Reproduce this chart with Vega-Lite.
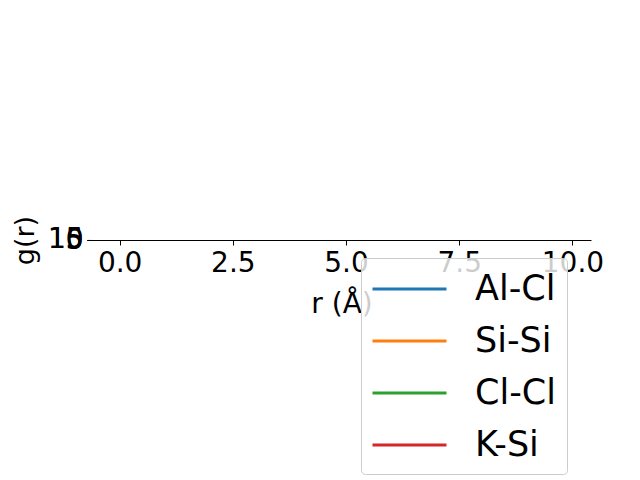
{
  "$schema": "https://vega.github.io/schema/vega-lite/v6.json",
  "autosize": "none",
  "padding": {"left": 92, "top": 240, "right": 49, "bottom": 240},
  "width": 499,
  "height": 0.01,
  "background": "white",
  "config": {
    "font": "DejaVu Sans",
    "view": {"stroke": null},
    "axis": {"grid": false, "domainColor": "black", "tickColor": "black", "labelColor": "black", "titleColor": "black", "titleFontWeight": "normal", "zindex": 1}
  },
  "data": {
    "values": [
      {"r": 0.0, "g": 0, "pair": "Al-Cl"},
      {"r": 1.5, "g": 0, "pair": "Al-Cl"},
      {"r": 1.9, "g": 4.5, "pair": "Al-Cl"},
      {"r": 2.1, "g": 14.2, "pair": "Al-Cl"},
      {"r": 2.3, "g": 5.1, "pair": "Al-Cl"},
      {"r": 2.7, "g": 0.3, "pair": "Al-Cl"},
      {"r": 3.5, "g": 0.6, "pair": "Al-Cl"},
      {"r": 4.3, "g": 1.4, "pair": "Al-Cl"},
      {"r": 5.0, "g": 1.1, "pair": "Al-Cl"},
      {"r": 6.0, "g": 0.9, "pair": "Al-Cl"},
      {"r": 7.0, "g": 1.05, "pair": "Al-Cl"},
      {"r": 8.0, "g": 1.0, "pair": "Al-Cl"},
      {"r": 9.0, "g": 0.98, "pair": "Al-Cl"},
      {"r": 9.9, "g": 1.0, "pair": "Al-Cl"},
      {"r": 0.0, "g": 0, "pair": "Si-Si"},
      {"r": 2.6, "g": 0, "pair": "Si-Si"},
      {"r": 2.9, "g": 2.2, "pair": "Si-Si"},
      {"r": 3.1, "g": 5.0, "pair": "Si-Si"},
      {"r": 3.4, "g": 2.1, "pair": "Si-Si"},
      {"r": 4.0, "g": 0.5, "pair": "Si-Si"},
      {"r": 5.0, "g": 1.6, "pair": "Si-Si"},
      {"r": 6.0, "g": 0.8, "pair": "Si-Si"},
      {"r": 7.0, "g": 1.2, "pair": "Si-Si"},
      {"r": 8.0, "g": 0.95, "pair": "Si-Si"},
      {"r": 9.0, "g": 1.02, "pair": "Si-Si"},
      {"r": 9.9, "g": 1.0, "pair": "Si-Si"},
      {"r": 0.0, "g": 0, "pair": "Cl-Cl"},
      {"r": 2.9, "g": 0, "pair": "Cl-Cl"},
      {"r": 3.3, "g": 1.8, "pair": "Cl-Cl"},
      {"r": 3.6, "g": 3.1, "pair": "Cl-Cl"},
      {"r": 4.0, "g": 1.5, "pair": "Cl-Cl"},
      {"r": 5.0, "g": 0.8, "pair": "Cl-Cl"},
      {"r": 6.0, "g": 1.3, "pair": "Cl-Cl"},
      {"r": 7.0, "g": 0.9, "pair": "Cl-Cl"},
      {"r": 8.0, "g": 1.05, "pair": "Cl-Cl"},
      {"r": 9.0, "g": 0.98, "pair": "Cl-Cl"},
      {"r": 9.9, "g": 1.0, "pair": "Cl-Cl"},
      {"r": 0.0, "g": 0, "pair": "K-Si"},
      {"r": 3.0, "g": 0, "pair": "K-Si"},
      {"r": 3.5, "g": 1.2, "pair": "K-Si"},
      {"r": 3.8, "g": 2.0, "pair": "K-Si"},
      {"r": 4.3, "g": 1.3, "pair": "K-Si"},
      {"r": 5.0, "g": 0.9, "pair": "K-Si"},
      {"r": 6.0, "g": 1.15, "pair": "K-Si"},
      {"r": 7.0, "g": 0.95, "pair": "K-Si"},
      {"r": 8.0, "g": 1.03, "pair": "K-Si"},
      {"r": 9.0, "g": 0.99, "pair": "K-Si"},
      {"r": 9.9, "g": 1.0, "pair": "K-Si"}
    ]
  },
  "mark": {"type": "line", "clip": true, "strokeWidth": 2},
  "encoding": {
    "x": {
      "field": "r", "type": "quantitative",
      "scale": {"domain": [-0.61, 10.41], "nice": false, "zero": false},
      "axis": {"values": [0, 2.5, 5, 7.5, 10], "format": ".1f", "labelFontSize": 28, "tickSize": 5, "labelPadding": 4, "title": "r (Å)", "titleFontSize": 28, "titlePadding": 13, "labelOverlap": false, "labelFlush": false}
    },
    "y": {
      "field": "g", "type": "quantitative",
      "scale": {"domain": [-0.7, 15], "nice": false, "zero": false},
      "axis": {"values": [0, 5, 10, 15], "labelFontSize": 28, "tickSize": 5, "labelPadding": 4, "title": "g(r)", "titleFontSize": 27, "titlePadding": 8, "labelOverlap": false, "labelFlush": false, "labelBaseline": "middle"}
    },
    "color": {
      "field": "pair", "type": "nominal",
      "scale": {"domain": ["Al-Cl", "Si-Si", "Cl-Cl", "K-Si"], "range": ["#1f77b4", "#ff7f0e", "#2ca02c", "#d62728"]},
      "legend": {
        "title": null, "orient": "none", "legendX": 269, "legendY": 18,
        "symbolType": "M-2,0H2", "symbolSize": 1369, "symbolStrokeWidth": 3, "symbolOffset": 17.5,
        "labelFontSize": 35, "labelOffset": 45.5, "labelColor": "black",
        "labelExpr": "datum.label + '\u2009'",
        "rowPadding": 14, "padding": 11,
        "strokeColor": "#cccccc", "fillColor": "rgba(255,255,255,0.8)", "cornerRadius": 4
      }
    }
  }
}
